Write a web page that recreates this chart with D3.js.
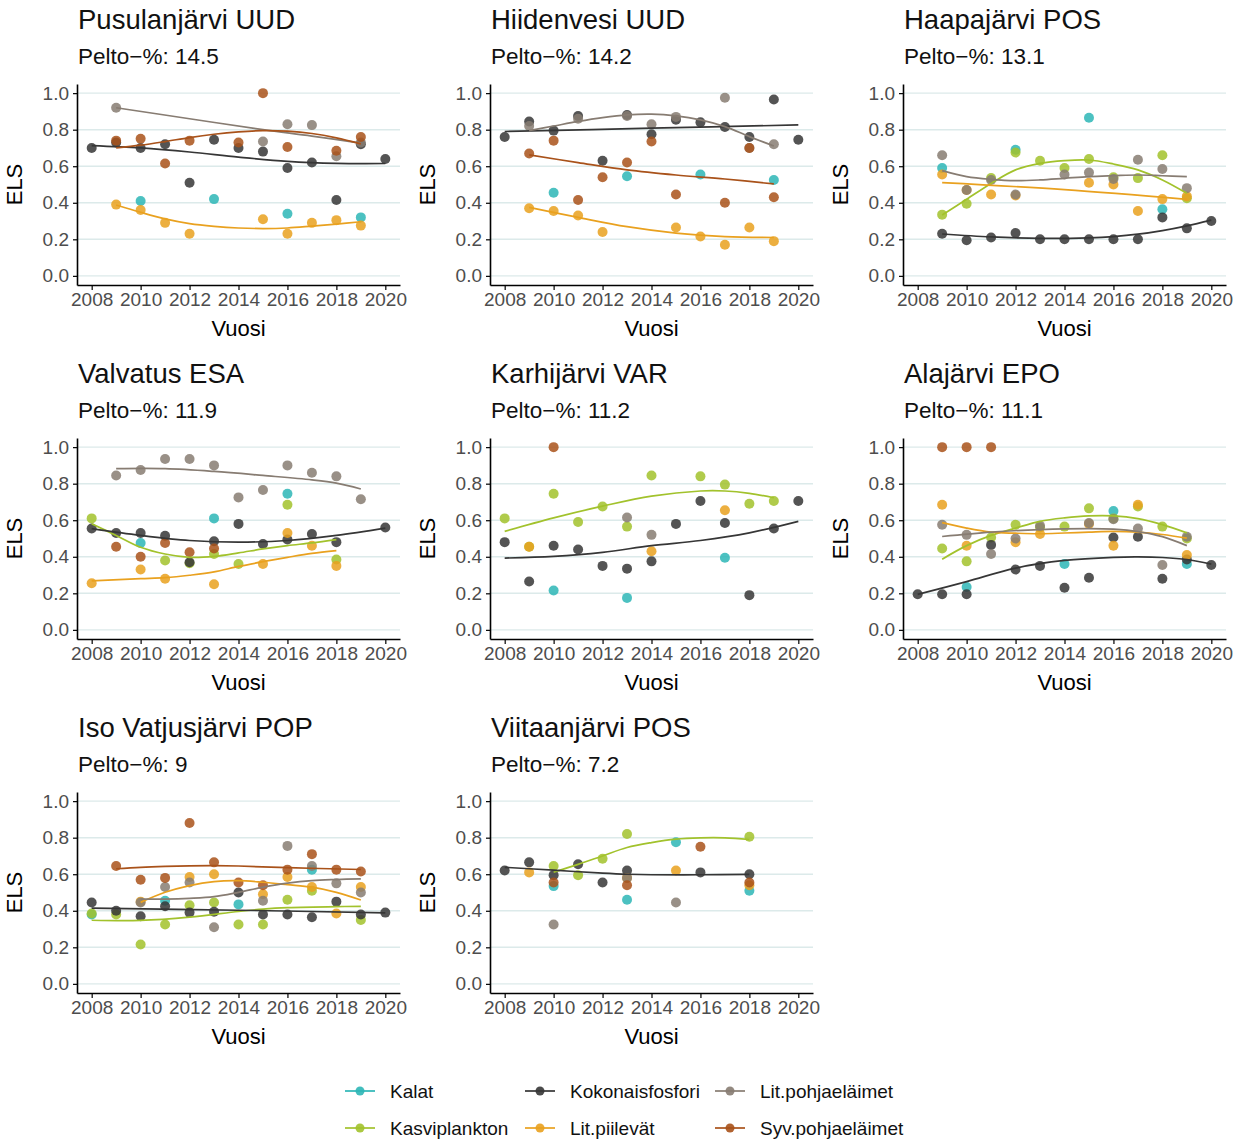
<!DOCTYPE html>
<html>
<head>
<meta charset="utf-8">
<script src="https://cdn.jsdelivr.net/npm/d3@7"></script>
<style>
  body { margin: 0; background: #fff; }
  text { font-family: "Liberation Sans", Arial, sans-serif; }
</style>
</head>
<body>
<div id="chart"></div>
<script>
// Series, in legend / drawing order
const SERIES = ["Kalat", "Kasviplankton", "Kokonaisfosfori", "Lit.piilevät", "Lit.pohjaeläimet", "Syv.pohjaeläimet"];
const COLORS = ["#2db6b6", "#a2c22c", "#363636", "#e9a11f", "#877c72", "#a9521a"];

const LAKES = ["Pusulanjärvi UUD", "Hiidenvesi UUD", "Haapajärvi POS", "Valvatus ESA",
  "Karhijärvi VAR", "Alajärvi EPO", "Iso Vatjusjärvi POP", "Viitaanjärvi POS"];
const PELTO = ["14.5", "14.2", "13.1", "11.9", "11.2", "11.1", "9", "7.2"];

const YEAR_TICKS = [2008, 2010, 2012, 2014, 2016, 2018, 2020];
const ELS_TICKS = [0, 0.2, 0.4, 0.6, 0.8, 1.0];

// Observed ELS points per lake: one list of [year, value] per series (SERIES order)
const pusulanPts = [
  [[2010, .41], [2013, .42], [2016, .34], [2019, .32]],
  [],
  [[2008, .70], [2009, .73], [2010, .70], [2011, .72], [2012, .51], [2013, .745], [2014, .70], [2015, .68], [2016, .59], [2017, .62], [2018, .415], [2019, .72], [2020, .64]],
  [[2009, .39], [2010, .36], [2011, .29], [2012, .23], [2015, .31], [2016, .23], [2017, .29], [2018, .305], [2019, .275]],
  [[2009, .92], [2015, .735], [2016, .83], [2017, .825], [2018, .655], [2019, .73]],
  [[2009, .74], [2010, .75], [2011, .615], [2012, .74], [2014, .73], [2015, 1.0], [2016, .705], [2018, .685], [2019, .76]]
];
const hiidenPts = [
  [[2010, .455], [2013, .545], [2016, .555], [2019, .525]],
  [],
  [[2008, .76], [2009, .845], [2010, .795], [2011, .875], [2012, .63], [2013, .88], [2014, .775], [2015, .855], [2016, .84], [2017, .815], [2018, .76], [2019, .965], [2020, .745]],
  [[2009, .37], [2010, .355], [2011, .33], [2012, .24], [2015, .265], [2016, .215], [2017, .17], [2018, .265], [2019, .19]],
  [[2009, .82], [2011, .86], [2013, .875], [2014, .83], [2015, .87], [2017, .975], [2018, .70], [2019, .72]],
  [[2009, .67], [2010, .74], [2011, .415], [2012, .54], [2013, .62], [2014, .735], [2015, .445], [2017, .40], [2018, .70], [2019, .43]]
];
const haapaPts = [
  [[2009, .59], [2012, .69], [2015, .865], [2018, .365]],
  [[2009, .335], [2010, .395], [2011, .535], [2012, .675], [2013, .63], [2014, .59], [2015, .64], [2016, .54], [2017, .535], [2018, .66], [2019, .425]],
  [[2009, .23], [2010, .195], [2011, .21], [2012, .235], [2013, .20], [2014, .20], [2015, .20], [2016, .20], [2017, .20], [2018, .32], [2019, .26], [2020, .30]],
  [[2009, .555], [2010, .47], [2011, .445], [2012, .44], [2015, .51], [2016, .50], [2017, .355], [2018, .42], [2019, .435]],
  [[2009, .66], [2010, .47], [2011, .525], [2012, .445], [2014, .555], [2015, .565], [2016, .53], [2017, .635], [2018, .585], [2019, .48]],
  []
];
const valvatusPts = [
  [[2010, .475], [2013, .61], [2016, .745]],
  [[2008, .61], [2011, .38], [2012, .365], [2013, .415], [2014, .36], [2016, .685], [2018, .385]],
  [[2008, .555], [2009, .53], [2010, .53], [2011, .515], [2012, .37], [2013, .485], [2014, .58], [2015, .47], [2016, .495], [2017, .525], [2018, .48], [2020, .56]],
  [[2008, .255], [2010, .33], [2011, .28], [2013, .25], [2015, .36], [2016, .53], [2017, .46], [2018, .35]],
  [[2009, .845], [2010, .875], [2011, .935], [2012, .935], [2013, .90], [2014, .725], [2015, .765], [2016, .90], [2017, .86], [2018, .84], [2019, .715]],
  [[2009, .455], [2010, .40], [2011, .475], [2012, .425], [2013, .445]]
];
const karhiPts = [
  [[2010, .215], [2013, .175], [2017, .395]],
  [[2008, .61], [2009, .455], [2010, .745], [2011, .59], [2012, .675], [2013, .565], [2014, .845], [2016, .84], [2017, .795], [2018, .69], [2019, .705]],
  [[2008, .48], [2009, .265], [2010, .46], [2011, .44], [2012, .35], [2013, .335], [2014, .375], [2015, .58], [2016, .705], [2017, .585], [2018, .19], [2019, .555], [2020, .705]],
  [[2009, .455], [2014, .43], [2017, .655]],
  [[2013, .615], [2014, .52]],
  [[2010, 1.0]]
];
const alaPts = [
  [[2010, .235], [2014, .36], [2016, .65], [2019, .36]],
  [[2009, .445], [2010, .375], [2011, .505], [2012, .575], [2013, .56], [2014, .565], [2015, .665], [2016, .61], [2017, .675], [2018, .565], [2019, .50]],
  [[2008, .195], [2009, .195], [2010, .195], [2011, .465], [2012, .33], [2013, .35], [2014, .23], [2015, .285], [2016, .505], [2017, .51], [2018, .28], [2019, .385], [2020, .355]],
  [[2009, .685], [2010, .46], [2012, .48], [2013, .525], [2015, .58], [2016, .46], [2017, .685], [2019, .41]],
  [[2009, .575], [2010, .52], [2011, .415], [2012, .50], [2013, .57], [2015, .585], [2016, .605], [2017, .555], [2018, .355], [2019, .51]],
  [[2009, 1.0], [2010, 1.0], [2011, 1.0]]
];
const vatjusPts = [
  [[2008, .38], [2011, .455], [2014, .435], [2017, .625]],
  [[2008, .385], [2009, .38], [2010, .215], [2011, .325], [2012, .43], [2013, .445], [2014, .325], [2015, .325], [2016, .46], [2017, .51], [2019, .35]],
  [[2008, .445], [2009, .40], [2010, .37], [2011, .425], [2012, .39], [2013, .395], [2014, .50], [2015, .38], [2016, .38], [2017, .365], [2018, .45], [2019, .38], [2020, .39]],
  [[2010, .45], [2012, .585], [2013, .60], [2015, .49], [2016, .585], [2017, .53], [2018, .385], [2019, .53]],
  [[2010, .445], [2011, .53], [2012, .555], [2013, .31], [2015, .455], [2016, .755], [2017, .645], [2018, .55], [2019, .50]],
  [[2009, .645], [2010, .57], [2011, .58], [2012, .88], [2013, .665], [2014, .555], [2015, .54], [2016, .625], [2017, .71], [2018, .625], [2019, .615]]
];
const viitaanPts = [
  [[2010, .535], [2013, .46], [2015, .775], [2018, .51]],
  [[2010, .645], [2011, .595], [2012, .685], [2013, .82], [2018, .805]],
  [[2008, .62], [2009, .665], [2010, .595], [2011, .655], [2012, .555], [2013, .62], [2016, .61], [2018, .60]],
  [[2009, .61], [2013, .58], [2015, .62], [2018, .54]],
  [[2010, .325], [2013, .58], [2015, .445]],
  [[2010, .555], [2013, .54], [2016, .75], [2018, .555]]
];

// Smoothed trend lines, [year, value] per series
const pusulanFit = [
  [], [],
  [[2008, .713], [2010, .70], [2012, .678], [2014, .65], [2016, .627], [2018, .616], [2020, .615]],
  [[2009, .388], [2010, .348], [2011, .312], [2012, .286], [2013, .271], [2014, .262], [2015, .259], [2016, .262], [2017, .272], [2018, .283], [2019, .296]],
  [[2009, .92], [2012, .86], [2015, .80], [2017, .765], [2019, .726]],
  [[2009, .70], [2010, .715], [2011, .735], [2012, .757], [2013, .775], [2014, .788], [2015, .795], [2016, .792], [2017, .779], [2018, .755], [2019, .722]]
];
const hiidenFit = [
  [], [],
  [[2008, .79], [2014, .808], [2020, .826]],
  [[2009, .375], [2011, .32], [2013, .269], [2015, .234], [2017, .215], [2019, .21]],
  [[2009, .795], [2010, .82], [2011, .845], [2012, .866], [2013, .881], [2014, .885], [2015, .876], [2016, .854], [2017, .817], [2018, .762], [2019, .711]],
  [[2009, .662], [2011, .62], [2013, .58], [2015, .552], [2017, .53], [2019, .503]]
];
const haapaFit = [
  [],
  [[2009, .333], [2010, .419], [2011, .506], [2012, .58], [2013, .616], [2014, .631], [2015, .634], [2016, .612], [2017, .58], [2018, .525], [2019, .452]],
  [[2009, .229], [2011, .213], [2013, .205], [2015, .208], [2016, .215], [2017, .228], [2018, .248], [2019, .274], [2020, .305]],
  [[2009, .51], [2014, .472], [2019, .419]],
  [[2009, .576], [2010, .543], [2011, .528], [2012, .521], [2013, .525], [2014, .534], [2015, .543], [2016, .548], [2017, .552], [2018, .548], [2019, .543]],
  []
];
const valvatusFit = [
  [],
  [[2008, .581], [2009, .517], [2010, .452], [2011, .415], [2012, .397], [2013, .402], [2014, .421], [2015, .443], [2016, .461], [2017, .476], [2018, .494]],
  [[2008, .554], [2010, .517], [2012, .489], [2014, .48], [2016, .489], [2018, .517], [2020, .557]],
  [[2008, .268], [2010, .28], [2011, .286], [2012, .299], [2013, .317], [2014, .347], [2015, .373], [2016, .397], [2017, .419], [2018, .434]],
  [[2009, .882], [2011, .882], [2013, .867], [2015, .845], [2017, .821], [2018, .803], [2019, .771]],
  []
];
const karhiFit = [
  [],
  [[2008, .539], [2010, .613], [2012, .677], [2014, .732], [2016, .76], [2017, .76], [2018, .747], [2019, .723]],
  [[2008, .393], [2010, .402], [2012, .424], [2014, .461], [2016, .489], [2018, .531], [2020, .594]],
  [], [], []
];
const alaFit = [
  [],
  [[2009, .387], [2010, .461], [2011, .517], [2012, .557], [2013, .594], [2014, .613], [2015, .624], [2016, .624], [2017, .609], [2018, .576], [2019, .531]],
  [[2008, .194], [2010, .264], [2012, .338], [2014, .38], [2016, .397], [2017, .399], [2018, .396], [2019, .385], [2020, .36]],
  [[2009, .587], [2010, .557], [2011, .535], [2012, .529], [2013, .526], [2014, .53], [2015, .535], [2016, .539], [2017, .535], [2018, .522], [2019, .502]],
  [[2009, .511], [2011, .535], [2013, .549], [2015, .554], [2016, .551], [2017, .538], [2018, .51], [2019, .461]],
  []
];
const vatjusFit = [
  [],
  [[2008, .348], [2010, .347], [2012, .365], [2014, .396], [2015, .409], [2016, .417], [2018, .423], [2019, .424]],
  [[2008, .414], [2014, .403], [2020, .389]],
  [[2010, .446], [2011, .501], [2012, .538], [2013, .56], [2014, .565], [2015, .556], [2016, .543], [2017, .529], [2018, .501], [2019, .459]],
  [[2010, .464], [2011, .464], [2012, .468], [2013, .477], [2014, .501], [2015, .529], [2016, .551], [2017, .565], [2018, .571], [2019, .575]],
  [[2009, .63], [2010, .638], [2011, .643], [2012, .646], [2013, .647], [2014, .645], [2016, .636], [2019, .626]]
];
const viitaanFit = [
  [],
  [[2010, .611], [2011, .654], [2012, .70], [2013, .746], [2014, .773], [2015, .792], [2016, .799], [2017, .799], [2018, .79]],
  [[2008, .638], [2010, .622], [2012, .606], [2013, .60], [2014, .597], [2016, .597], [2018, .599]],
  [], [], []
];

const lakePoints = [pusulanPts, hiidenPts, haapaPts, valvatusPts, karhiPts, alaPts, vatjusPts, viitaanPts];
const lakeFits = [pusulanFit, hiidenFit, haapaFit, valvatusFit, karhiFit, alaFit, vatjusFit, viitaanFit];

// Layout ==========================
let svgWidth = 1247;
let svgHeight = 1140;
let panelW = 323;
let panelH = 201;
let colStep = 413;
let rowStep = 354;
let origin = { left: 77, top: 84 };

let svg = d3.select("#chart").append("svg")
  .attr("width", svgWidth)
  .attr("height", svgHeight);

let x = d3.scaleLinear().domain([2007.4, 2020.6]).range([0, panelW]);
let y = d3.scaleLinear().domain([-0.05, 1.05]).range([panelH, 0]);

let line = d3.line()
  .x(d => x(d[0]))
  .y(d => y(d[1]))
  .curve(d3.curveCatmullRom.alpha(0.5));

LAKES.forEach((lake, i) => {
  let col = i % 3;
  let row = Math.floor(i / 3);
  let g = svg.append("g")
    .attr("transform", `translate(${origin.left + col * colStep}, ${origin.top + row * rowStep})`);

  // titles
  g.append("text")
    .attr("x", 1).attr("y", -55)
    .attr("font-size", 27.5).attr("fill", "#111")
    .text(lake);
  g.append("text")
    .attr("x", 1).attr("y", -20)
    .attr("font-size", 22.5).attr("fill", "#111")
    .text(`Pelto\u2212%: ${PELTO[i]}`);

  // horizontal grid
  g.append("g").selectAll("line")
    .data(ELS_TICKS)
    .enter()
    .append("line")
    .attr("x1", 0).attr("x2", panelW)
    .attr("y1", d => y(d)).attr("y2", d => y(d))
    .attr("stroke", "#dceaea")
    .attr("stroke-width", 1.4);

  // axes
  let yAxis = g.append("g")
    .call(d3.axisLeft(y).tickValues(ELS_TICKS).tickFormat(d3.format(".1f")).tickSize(4).tickSizeOuter(0).tickPadding(4));
  let xAxis = g.append("g")
    .attr("transform", `translate(0, ${panelH})`)
    .call(d3.axisBottom(x).tickValues(YEAR_TICKS).tickFormat(d3.format("d")).tickSize(5).tickSizeOuter(0).tickPadding(3));
  [xAxis, yAxis].forEach(a => {
    a.select(".domain").attr("stroke", "#000").attr("stroke-width", 1.6);
    a.selectAll(".tick line").attr("stroke", "#000").attr("stroke-width", 1.2);
    a.selectAll(".tick text")
      .attr("font-size", 19)
      .attr("fill", "#4d4d4d")
      .attr("font-family", "'Liberation Sans', Arial, sans-serif");
  });

  // axis titles
  g.append("text")
    .attr("transform", `translate(-55, ${panelH / 2}) rotate(-90)`)
    .attr("text-anchor", "middle")
    .attr("font-size", 22).attr("fill", "#000")
    .text("ELS");
  g.append("text")
    .attr("x", panelW / 2).attr("y", panelH + 51)
    .attr("text-anchor", "middle")
    .attr("font-size", 22).attr("fill", "#000")
    .text("Vuosi");

  // points
  lakePoints[i].forEach((pts, k) => {
    g.append("g").selectAll("circle")
      .data(pts)
      .enter()
      .append("circle")
      .attr("cx", d => x(d[0]))
      .attr("cy", d => y(d[1]))
      .attr("r", 5)
      .attr("fill", COLORS[k])
      .attr("fill-opacity", 0.85);
  });

  // smooth lines
  lakeFits[i].forEach((fit, k) => {
    if (!fit.length) return;
    g.append("path")
      .datum(fit)
      .attr("d", line)
      .attr("fill", "none")
      .attr("stroke", COLORS[k])
      .attr("stroke-width", 1.7);
  });
});

// Legend ==========================
let legendX = [345, 525, 715];
let legendY = [1091, 1128];
let legend = svg.append("g");
SERIES.forEach((s, k) => {
  let lx = legendX[Math.floor(k / 2)];
  let ly = legendY[k % 2];
  legend.append("line")
    .attr("x1", lx).attr("x2", lx + 30)
    .attr("y1", ly).attr("y2", ly)
    .attr("stroke", COLORS[k]).attr("stroke-width", 1.7);
  legend.append("circle")
    .attr("cx", lx + 15).attr("cy", ly).attr("r", 4.5)
    .attr("fill", COLORS[k]).attr("fill-opacity", 0.9);
  legend.append("text")
    .attr("x", lx + 45).attr("y", ly + 7)
    .attr("font-size", 19).attr("fill", "#111")
    .text(s);
});
</script>
</body>
</html>
